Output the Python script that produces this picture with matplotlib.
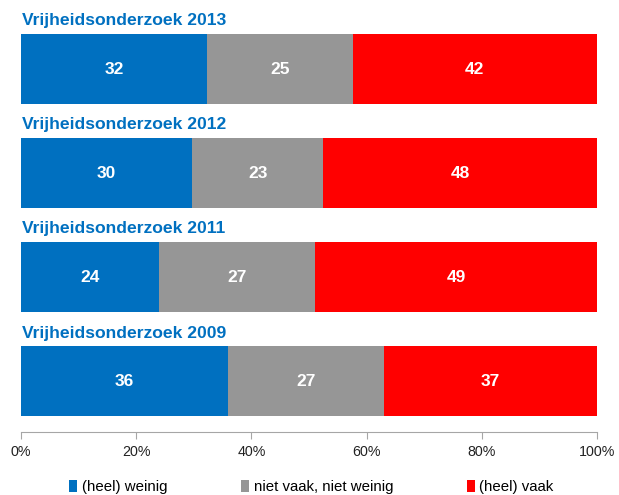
import matplotlib
matplotlib.use("Agg")
import matplotlib.pyplot as plt
from matplotlib.patches import Patch
import numpy as np

plt.rcParams['font.family'] = ['Liberation Sans', 'DejaVu Sans']

titles = ["Vrijheidsonderzoek 2013", "Vrijheidsonderzoek 2012",
          "Vrijheidsonderzoek 2011", "Vrijheidsonderzoek 2009"]
weinig = [32, 30, 24, 36]
neutraal = [25, 23, 27, 27]
vaak = [42, 48, 49, 37]
series_names = ["(heel) weinig", "niet vaak, niet weinig", "(heel) vaak"]
colors = ["#0070C0", "#969696", "#FF0000"]
xticks = [0, 20, 40, 60, 80, 100]
xticklabels = ["0%", "20%", "40%", "60%", "80%", "100%"]

W, H = 619, 495
fig = plt.figure(figsize=(W / 100, H / 100), dpi=100)
left, right = 21 / W, 597 / W
top_px, bot_px = 4, 432
ax = fig.add_axes([left, 1 - bot_px / H, right - left, (bot_px - top_px) / H])

data = np.array([weinig, neutraal, vaak], dtype=float)
shares = data / data.sum(axis=0) * 100
y = np.arange(len(titles))
bh = 0.673
lefts = np.zeros(len(titles))
for i in range(3):
    ax.barh(y, shares[i], left=lefts, height=bh, color=colors[i], edgecolor='none')
    for j in range(len(titles)):
        ax.text(lefts[j] + shares[i][j] / 2, y[j], str(int(data[i][j])),
                ha='center', va='center', color='white', fontsize=12.5, fontweight='bold')
    lefts += shares[i]

for j, t in enumerate(titles):
    ax.text(0.2, y[j] - bh / 2 - 0.085, t, ha='left', va='baseline',
            color='#0070C0', fontsize=12.6, fontweight='bold')

ax.set_xlim(0, 100)
ax.set_ylim(3 + (432 - 381.5) / 104, -(69 - 4) / 104)
for s in ['top', 'right', 'left']:
    ax.spines[s].set_visible(False)
ax.spines['bottom'].set_color('#A6A6A6')
ax.set_yticks([])
ax.set_xticks(xticks)
ax.set_xticklabels(xticklabels, fontsize=10.3, color='#222222')
ax.tick_params(axis='x', direction='out', length=5, color='#A6A6A6', pad=4)

handles = [Patch(facecolor=c, edgecolor='none') for c in colors]
fig.legend(handles, series_names, loc='center', bbox_to_anchor=(0.503, 1 - 487 / H),
           ncol=3, frameon=False, fontsize=10.8, handlelength=0.55, handleheight=0.85,
           handletextpad=0.3, columnspacing=4.9)

fig.savefig("out.png", dpi=100)
